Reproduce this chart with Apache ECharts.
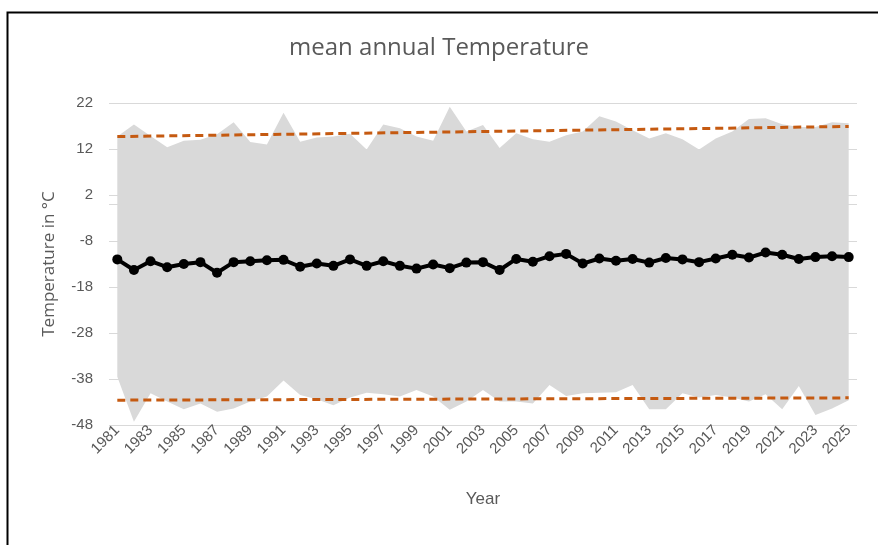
<!DOCTYPE html>
<html>
<head>
<meta charset="utf-8">
<script src="https://cdn.jsdelivr.net/npm/echarts@6/dist/echarts.min.js"></script>
<style>
html,body{margin:0;padding:0;background:#fff;}
#chart{width:878px;height:545px;}
</style>
</head>
<body>
<div id="chart"></div>
<script>
var years = ['1981','1982','1983','1984','1985','1986','1987','1988','1989','1990',
 '1991','1992','1993','1994','1995','1996','1997','1998','1999','2000',
 '2001','2002','2003','2004','2005','2006','2007','2008','2009','2010',
 '2011','2012','2013','2014','2015','2016','2017','2018','2019','2020',
 '2021','2022','2023','2024','2025'];

var meanT = [-12.0,-14.3,-12.4,-13.7,-13.0,-12.6,-14.9,-12.6,-12.4,-12.2,
 -12.1,-13.6,-12.9,-13.4,-12.0,-13.4,-12.4,-13.4,-14.0,-13.1,
 -13.9,-12.7,-12.6,-14.3,-11.9,-12.5,-11.3,-10.8,-12.9,-11.8,
 -12.3,-11.9,-12.7,-11.7,-12.0,-12.6,-11.8,-11.0,-11.6,-10.5,
 -11.0,-11.9,-11.5,-11.3,-11.5];

var maxT = [14.7,17.3,14.8,12.4,13.8,14.0,15.2,17.8,13.5,13.0,
 19.9,13.6,14.5,14.7,15.3,11.9,17.3,16.5,14.7,13.8,
 21.2,15.8,17.2,12.2,15.4,14.1,13.6,15.0,15.8,19.1,
 18.0,16.1,14.3,15.4,14.1,11.9,14.3,15.8,18.5,18.7,
 17.4,16.8,16.8,17.8,17.6];

var minT = [-37.5,-47.3,-41.1,-42.9,-44.6,-43.3,-45.1,-44.4,-42.9,-41.8,
 -38.3,-41.5,-42.4,-43.7,-42.0,-41.0,-41.3,-41.8,-40.4,-41.8,
 -44.7,-42.9,-40.4,-42.9,-42.9,-43.3,-39.3,-41.7,-41.1,-41.0,
 -40.9,-39.3,-44.6,-44.6,-41.1,-42.0,-41.5,-42.0,-42.9,-41.3,
 -44.6,-39.5,-45.8,-44.4,-42.6];

// trend line end values (first year, last year)
var upperTrend = [14.7, 16.9];
var lowerTrend = [-42.6, -42.1];

var yTicks = {min: -48, max: 22, interval: 10};

function trendSeriesData(ends) {
  var d = years.map(function(){ return null; });
  d[0] = ends[0];
  d[d.length - 1] = ends[1];
  return d;
}
var bandDiff = maxT.map(function(v, i){ return +(v - minT[i]).toFixed(2); });

var chart = echarts.init(document.getElementById('chart'), null, {renderer: 'canvas'});
var txt = '#595959';
var option = {
  animation: false,
  backgroundColor: '#fff',
  title: {
    text: 'mean annual Temperature',
    left: 'center', top: 31,
    textStyle: {fontFamily: 'Open Sans', fontWeight: 'normal', fontSize: 24, color: txt}
  },
  graphic: [{
    type: 'rect', left: 5, top: 10, silent: true,
    shape: {x: 0, y: 0, width: 1000, height: 1000},
    style: {fill: 'none', stroke: '#000', lineWidth: 2}
  }],
  grid: {left: 109, right: 21, top: 103, bottom: 120, containLabel: false},
  xAxis: {
    type: 'category',
    data: years,
    boundaryGap: true,
    axisLine: {show: false},
    axisTick: {show: false},
    axisLabel: {interval: 1, rotate: 45, color: txt, fontSize: 15, fontFamily: 'Liberation Sans', margin: 3},
    name: 'Year', nameLocation: 'middle', nameGap: 66,
    nameTextStyle: {color: txt, fontSize: 17, fontFamily: 'Liberation Sans'}
  },
  yAxis: {
    type: 'value',
    min: yTicks.min, max: yTicks.max, interval: yTicks.interval,
    axisLine: {show: false},
    axisTick: {show: false},
    splitLine: {lineStyle: {color: '#D9D9D9', width: 1}},
    axisLabel: {color: txt, fontSize: 15, fontFamily: 'Liberation Sans', margin: 16},
    name: 'Temperature in °C', nameLocation: 'middle', nameGap: 51, nameRotate: 90,
    nameTextStyle: {color: txt, fontSize: 17, fontFamily: 'Open Sans'}
  },
  series: [
    {
      name: 'min', type: 'line', data: minT, stack: 'band', stackStrategy: 'all',
      symbol: 'none', lineStyle: {opacity: 0}, silent: true, z: 1,
      markLine: {
        silent: true, symbol: 'none', label: {show: false},
        lineStyle: {color: '#D9D9D9', type: 'solid', width: 1},
        data: [{yAxis: 0}]
      }
    },
    {
      name: 'band', type: 'line', data: bandDiff, stack: 'band', stackStrategy: 'all',
      symbol: 'none', lineStyle: {opacity: 0}, silent: true, z: 1,
      areaStyle: {color: '#D9D9D9', opacity: 1}
    },
    {
      name: 'upper trend', type: 'line', data: trendSeriesData(upperTrend), connectNulls: true,
      symbol: 'none', z: 3,
      lineStyle: {color: '#C55A11', width: 3, type: [8, 5]}
    },
    {
      name: 'lower trend', type: 'line', data: trendSeriesData(lowerTrend), connectNulls: true,
      symbol: 'none', z: 3,
      lineStyle: {color: '#C55A11', width: 3, type: [8, 5]}
    },
    {
      name: 'mean', type: 'line', data: meanT, z: 4,
      symbol: 'circle', symbolSize: 10,
      itemStyle: {color: '#000'},
      lineStyle: {color: '#000', width: 4}
    }
  ]
};
chart.setOption(option);
</script>
</body>
</html>
